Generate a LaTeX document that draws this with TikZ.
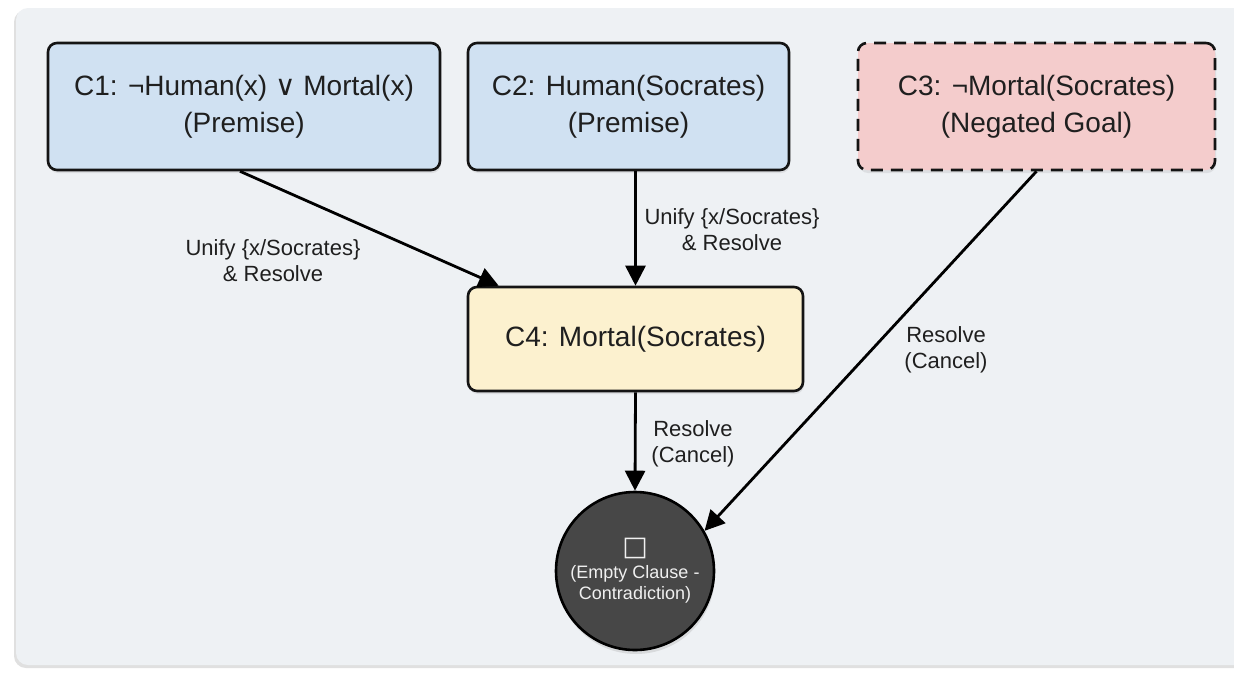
\documentclass[tikz,border=0pt]{standalone}
\usepackage{fontspec}
\setmainfont{Liberation Sans}
\newfontfamily\symfont{DejaVu Sans}
\usetikzlibrary{arrows.meta,shadows}

\definecolor{panelbg}{HTML}{EEF1F4}
\definecolor{premise}{HTML}{D0E1F2}
\definecolor{goal}{HTML}{F4CCCC}
\definecolor{derived}{HTML}{FCF1CF}
\definecolor{emptyfill}{HTML}{474747}

\begin{document}
\begin{tikzpicture}[x=1pt,y=-1pt,
  clause/.style={draw=black!92, line width=2.6pt, rounded corners=9pt,
    align=center, inner sep=0pt, text=black!88,
    font=\fontsize{28}{37}\selectfont,
    drop shadow={shadow xshift=1pt, shadow yshift=-3pt, opacity=0.16}},
  emptybox/.style={circle, draw=black, line width=2.6pt, fill=emptyfill,
    minimum size=158pt, inner sep=0pt, align=center, text=white!94!black,
    font=\fontsize{18}{21}\selectfont,
    drop shadow={shadow xshift=1pt, shadow yshift=-4pt, opacity=0.2}},
  lbl/.style={align=center, text=black!88, inner sep=0pt,
    font=\fontsize{22}{26}\selectfont},
  link/.style={draw=black, line width=2.8pt,
    -{Triangle[length=20pt,width=20pt]}}
]
\useasboundingbox (0,0) rectangle (1234,672);
\fill[white] (0,0) rectangle (1234,672);

% background panel
\fill[black!12, rounded corners=12pt] (14,10) rectangle (1250,668);
\fill[panelbg, rounded corners=12pt] (16,8) rectangle (1250,665);

% clauses
\node[clause, fill=premise, minimum width=392pt, minimum height=127pt]
  (C1) at (244,106.5) {C1: ¬Human(x) {\symfont ∨} Mortal(x)\\(Premise)};
\node[clause, fill=premise, minimum width=321pt, minimum height=127pt]
  (C2) at (628.5,106.5) {C2: Human(Socrates)\\(Premise)};
\node[clause, fill=goal, dash pattern=on 12pt off 8pt,
  minimum width=357pt, minimum height=127pt]
  (C3) at (1036.5,106.5) {C3: ¬Mortal(Socrates)\\(Negated Goal)};
\node[clause, fill=derived, minimum width=335pt, minimum height=104pt]
  (C4) at (635.5,339) {C4: Mortal(Socrates)};
\node[emptybox] (E) at (635,571)
  {{\symfont\fontsize{27}{27}\selectfont □}\\[2pt](Empty Clause -\\Contradiction)};

% resolution steps
\draw[link] ([xshift=-4pt]C1.south) -- ([xshift=32pt]C4.north west);
\draw[link] (C2.south -| C4.north) -- (C4.north);
\draw[link] (C4.south) -- (E.north);
\draw[link] (C3.south) -- (E.30);

% step labels
\node[lbl] (l1) at (273,261) {Unify \{x/Socrates\}\\\& Resolve};
\node[lbl] (l2) at (732,230) {Unify \{x/Socrates\}\\\& Resolve};
\node[lbl] (l3) at (693,444) {Resolve\\(Cancel)};
\node[lbl] (l4) at (946,350) {Resolve\\(Cancel)};
\end{tikzpicture}
\end{document}
